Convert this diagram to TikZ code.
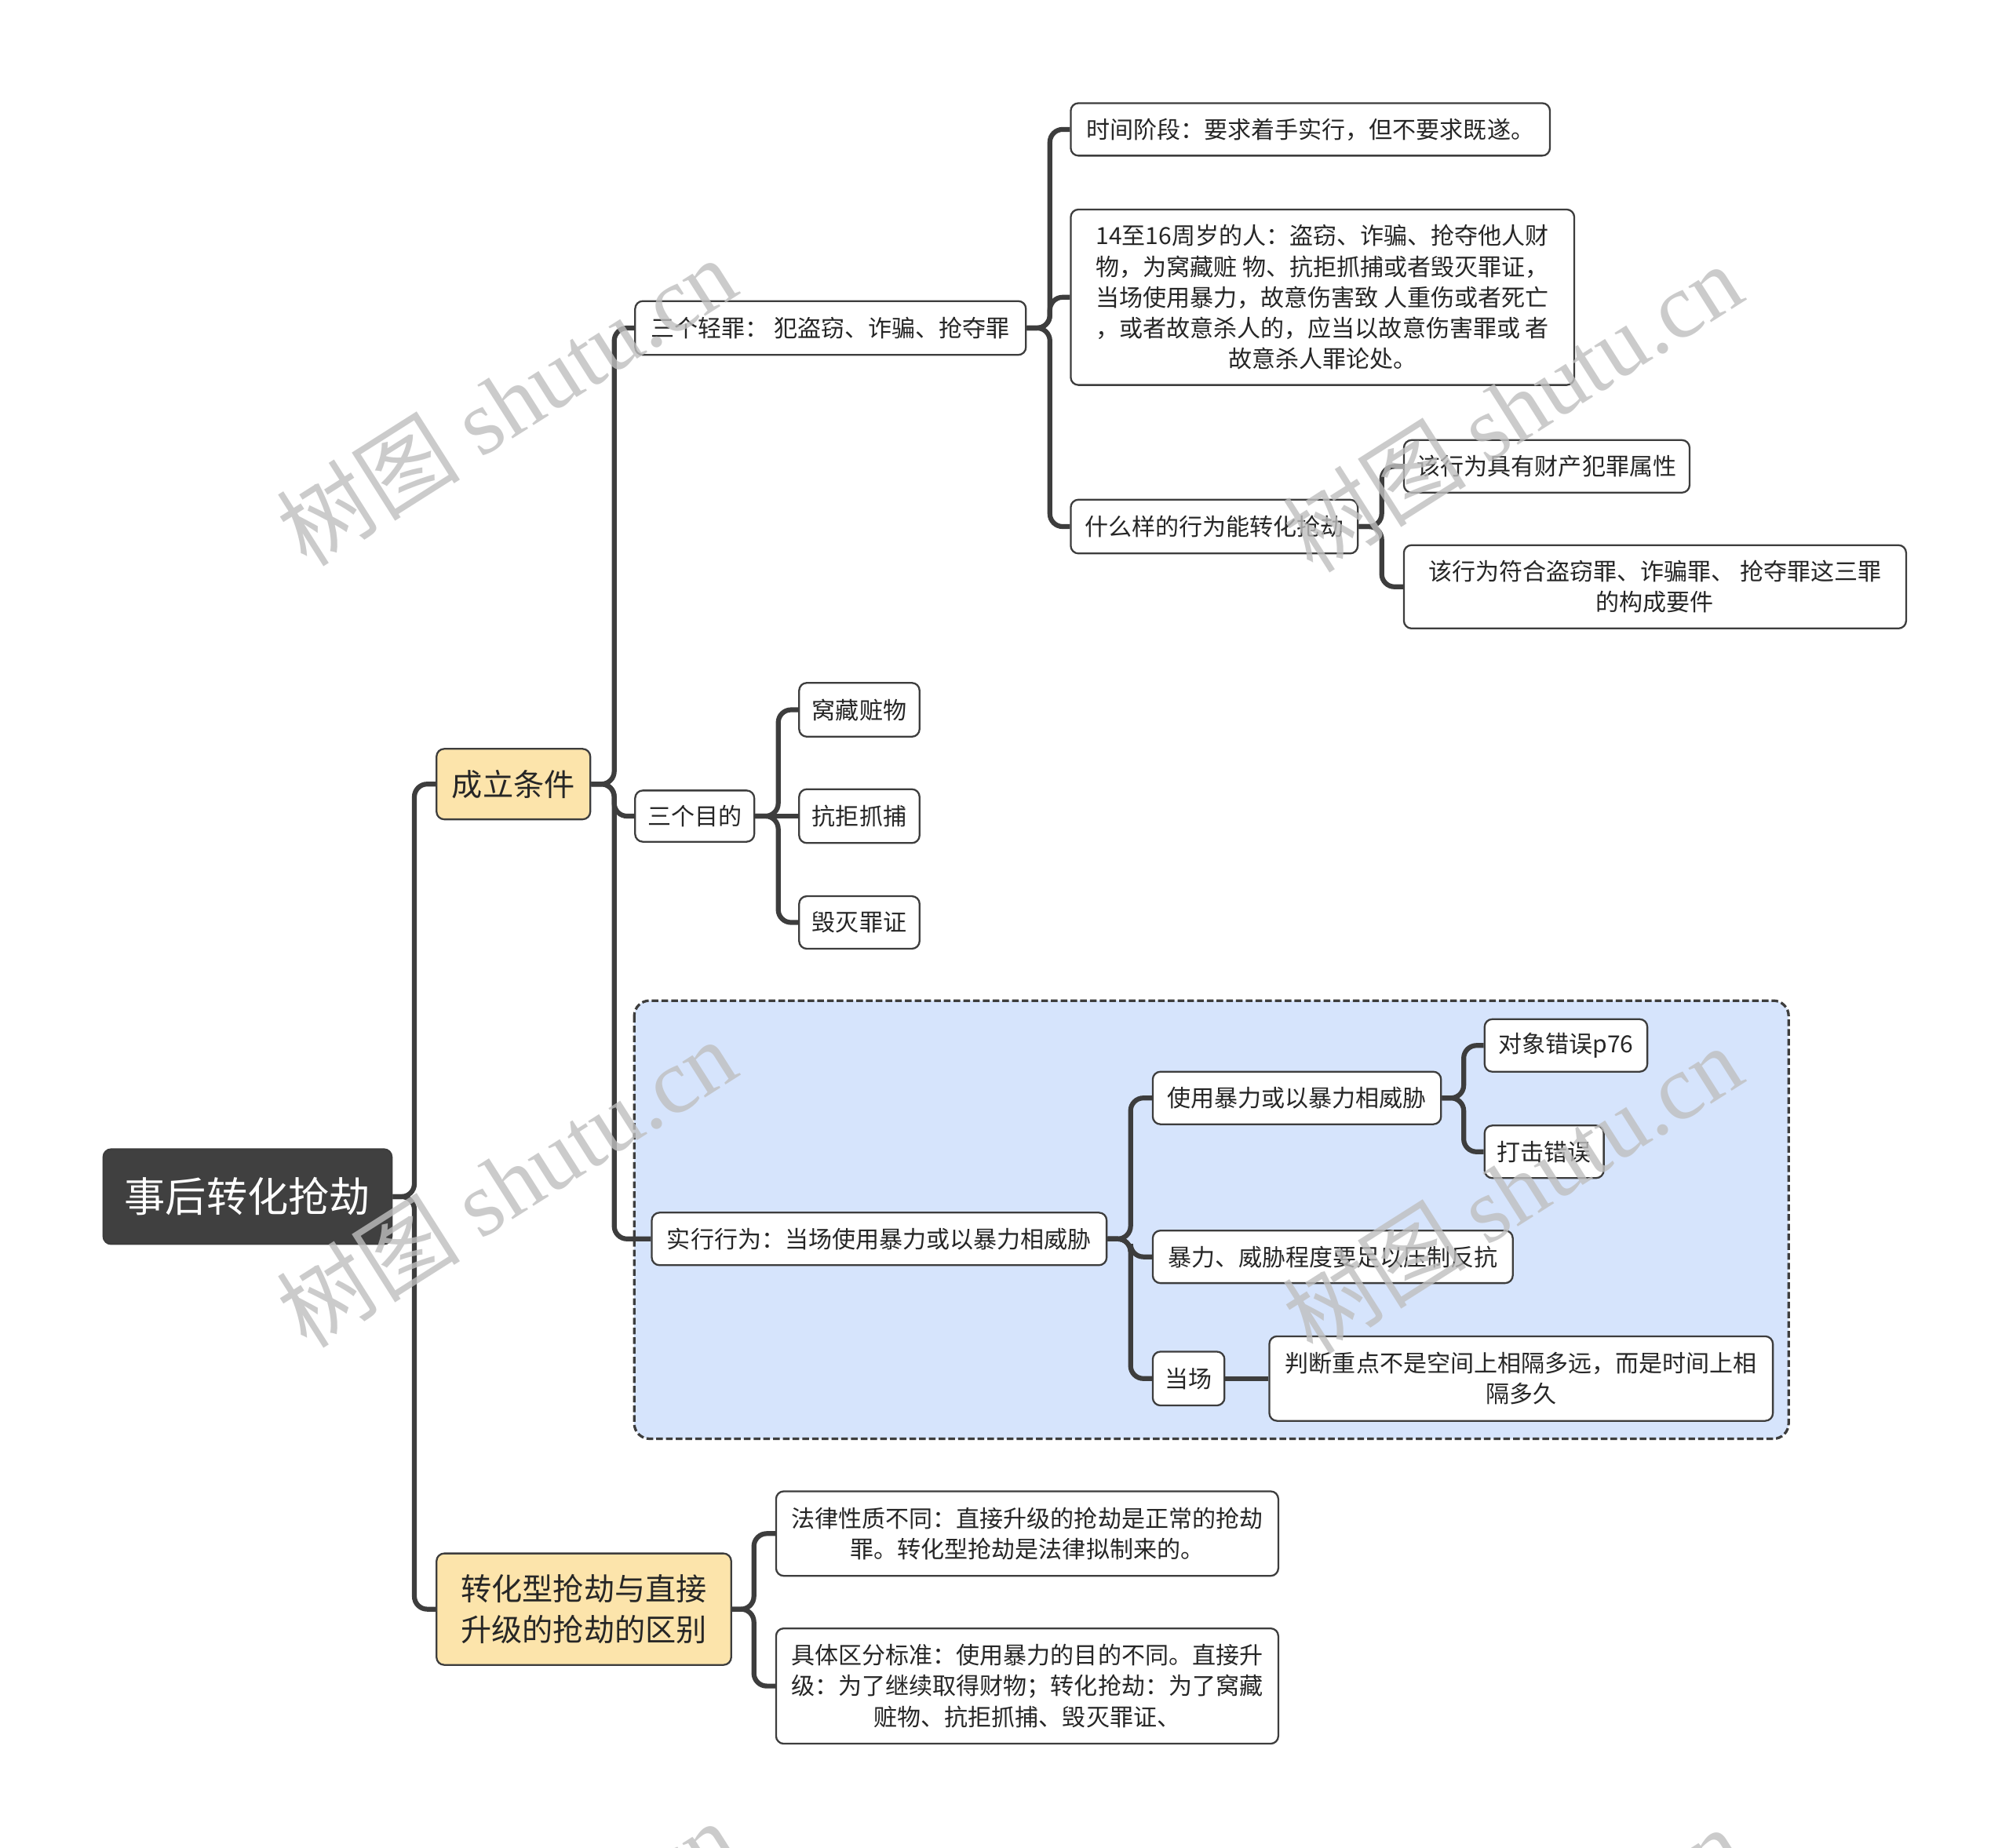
\documentclass[tikz,border=0pt]{standalone}
\usepackage{fontspec}
\setmainfont{Noto Sans CJK SC}
\newfontfamily\wmserif{Liberation Serif}
\definecolor{ln}{HTML}{3D3D3D}
\definecolor{yel}{HTML}{FCE4AB}
\definecolor{blu}{HTML}{D6E4FC}
\definecolor{rootc}{HTML}{404040}
\begin{document}
\begin{tikzpicture}[x=0.5pt,y=-0.5pt,
 base/.style={draw=ln, line width=0.7pt, rounded corners=3pt, inner sep=2pt, align=center, anchor=west, text=black!85},
 leaf/.style={base, fill=white, font=\fontsize{9.2}{12}\selectfont},
 lvl1/.style={base, fill=yel, font=\fontsize{12}{16}\selectfont},
 rootn/.style={base, fill=rootc, text=white, font=\fontsize{16}{20}\selectfont},
 sz/.style 2 args={minimum width=#1*0.5pt, minimum height=#2*0.5pt},
 conn/.style={draw=ln, line width=1.9pt, rounded corners=5pt},
 wm/.style={text=black!25, rotate=32.4, font=\fontsize{36}{40}\selectfont, opacity=0.8}
]
\useasboundingbox (0,0) rectangle (1568,1442);
\fill[white] (0,0) rectangle (1568,1442);

% highlighted group
\draw[draw=ln, fill=blu, line width=1pt, dash pattern=on 2.6pt off 1.2pt, rounded corners=6pt] (495,781) rectangle (1396,1123);

% nodes
\node[rootn, sz={225}{74}] (root) at (80,934) {事后转化抢劫};
\node[lvl1, sz={120}{55}] (cl) at (340,612) {成立条件};
\node[lvl1, sz={230}{87}] (qb) at (340,1256) {转化型抢劫与直接\\升级的抢劫的区别};

\node[leaf, sz={305}{42}] (qz) at (495,256) {三个轻罪：\ 犯盗窃、诈骗、抢夺罪};
\node[leaf, sz={93}{40}] (md) at (495,637) {三个目的};
\node[leaf, sz={355}{41}] (sx) at (508,967) {实行行为：当场使用暴力或以暴力相威胁};

\node[leaf, sz={374}{41}] (sj) at (835,101) {时间阶段：要求着手实行，但不要求既遂。};
\node[leaf, sz={393}{137}] (nl) at (835,232) {14至16周岁的人：盗窃、诈骗、抢夺他人财\\物，为窝藏赃 物、抗拒抓捕或者毁灭罪证，\\当场使用暴力，故意伤害致 人重伤或者死亡\\，或者故意杀人的，应当以故意伤害罪或 者\\故意杀人罪论处。};
\node[leaf, sz={224}{42}] (sm) at (835,411) {什么样的行为能转化抢劫};
\node[leaf, sz={223}{41}] (cc) at (1095,364) {该行为具有财产犯罪属性};
\node[leaf, sz={392}{65}] (fh) at (1095,458) {该行为符合盗窃罪、诈骗罪、 抢夺罪这三罪\\的构成要件};

\node[leaf, sz={94}{42}] (wc) at (623,554) {窝藏赃物};
\node[leaf, sz={94}{42}] (kj) at (623,637) {抗拒抓捕};
\node[leaf, sz={94}{41}] (hm) at (623,720) {毁灭罪证};

\node[leaf, sz={225}{41}] (sy) at (899,857) {使用暴力或以暴力相威胁};
\node[leaf, sz={127}{41}] (dx) at (1158,816) {对象错误p76};
\node[leaf, sz={93}{41}] (dj) at (1158,899) {打击错误};
\node[leaf, sz={281}{41}] (bl) at (899,981) {暴力、威胁程度要足以压制反抗};
\node[leaf, sz={56}{42}] (dc) at (899,1076) {当场};
\node[leaf, sz={393}{66}] (pd) at (990,1076) {判断重点不是空间上相隔多远，而是时间上相\\隔多久};

\node[leaf, sz={392}{66}] (fl) at (605,1197) {法律性质不同：直接升级的抢劫是正常的抢劫\\罪。转化型抢劫是法律拟制来的。};
\node[leaf, sz={392}{90}] (jt) at (605,1316) {具体区分标准：使用暴力的目的不同。直接升\\级：为了继续取得财物；转化抢劫：为了窝藏\\赃物、抗拒抓捕、毁灭罪证、};

% connectors
\draw[conn] (root.east) -- ++(17,0) |- (cl.west);
\draw[conn] (root.east) -- ++(17,0) |- (qb.west);

\draw[conn] (cl.east) -- ++(18,0) |- (qz.west);
\draw[conn] (cl.east) -- ++(18,0) |- (md.west);
\draw[conn] (cl.east) -- ++(18,0) |- (sx.west);

\draw[conn] (qz.east) -- ++(18,0) |- (sj.west);
\draw[conn] (qz.east) -- ++(18,0) |- (nl.west);
\draw[conn] (qz.east) -- ++(18,0) |- (sm.west);

\draw[conn] (sm.east) -- ++(18,0) |- (cc.west);
\draw[conn] (sm.east) -- ++(18,0) |- (fh.west);

\draw[conn] (md.east) -- ++(18,0) |- (wc.west);
\draw[conn] (md.east) -- (kj.west);
\draw[conn] (md.east) -- ++(18,0) |- (hm.west);

\draw[conn] (sx.east) -- ++(18,0) |- (sy.west);
\draw[conn] (sx.east) -- ++(18,0) |- (bl.west);
\draw[conn] (sx.east) -- ++(18,0) |- (dc.west);

\draw[conn] (sy.east) -- ++(17,0) |- (dx.west);
\draw[conn] (sy.east) -- ++(17,0) |- (dj.west);

\draw[conn] (dc.east) -- (pd.west);

\draw[conn] (qb.east) -- ++(17,0) |- (fl.west);
\draw[conn] (qb.east) -- ++(17,0) |- (jt.west);

% watermarks
\begin{scope}
\clip (0,0) rectangle (1568,1442);
\foreach \cx/\cy [count=\i] in {395/313, 1180/318, 395/923, 1180/928, 395/1533, 1180/1538}
  \node[wm] (wm\i) at (\cx,\cy) {树图 {\wmserif shutu.cn}};
\end{scope}
\end{tikzpicture}
\end{document}
